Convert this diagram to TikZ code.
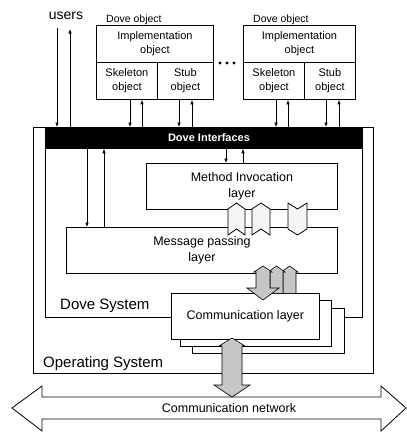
\documentclass[tikz,border=0pt]{standalone}
\usepackage{fontspec}
\setmainfont{Liberation Sans}
\usetikzlibrary{arrows.meta}
\begin{document}
\begin{tikzpicture}[x=1pt,y=-1pt,
  box/.style={draw, line width=0.8pt, anchor=north west, inner sep=0pt, align=center},
  cell/.style={box, font=\fontsize{11}{14}\selectfont},
  layerbox/.style={box, fill=white, font=\fontsize{12.5}{16}\selectfont},
  arr/.style={-{Latex[length=4.5pt,width=3.6pt]}, line width=0.7pt},
  small/.style={inner sep=0pt, font=\fontsize{10.5}{12}\selectfont},
  big/.style={inner sep=0pt, font=\fontsize{15}{17}\selectfont},
  chev/.style={draw, line width=0.8pt, fill=gray!8, line join=miter},
  grayarrow/.style={draw, line width=0.6pt, fill=gray!45, line join=miter}]
\useasboundingbox (0,0) rectangle (407,432);

% operating system and Dove system frames
\node[box, minimum width=340pt, minimum height=246pt] (os) at (33,127) {};
\node[box, minimum width=317pt, minimum height=190pt] (dsys) at (45,127) {};
\node[box, fill=black, minimum width=317pt, minimum height=21pt] (bar) at (45,127) {};
\node[inner sep=0pt, text=white, font=\bfseries\fontsize{11}{13}\selectfont] (barlbl) at (209,137.5) {Dove Interfaces};
\node[big, anchor=base west] (dslbl) at (60,309) {Dove System};
\node[big, anchor=base west] (oslbl) at (43,367) {Operating System};

% users
\node[inner sep=0pt, font=\fontsize{14}{16}\selectfont] (users) at (66,16) {users};
\coordinate (u1) at (57,28);
\coordinate (u2) at (70,29);
\draw[arr] (u1) -- (u1 |- bar.north);
\draw[arr] (u2 |- bar.north) -- (u2);

% left Dove object
\node[small, anchor=base west] (dolA) at (106,22) {Dove object};
\node[cell, minimum width=117pt, minimum height=37pt] (implA) at (96,25) {Implementation\\object};
\node[cell, minimum width=61pt, minimum height=37pt] (skelA) at (96,62) {Skeleton\\object};
\node[cell, minimum width=56pt, minimum height=37pt] (stubA) at (157,62) {Stub\\object};

% right Dove object
\node[small, anchor=base west] (dolB) at (253,22) {Dove object};
\node[cell, minimum width=112pt, minimum height=37pt] (implB) at (243,25) {Implementation\\object};
\node[cell, minimum width=61pt, minimum height=37pt] (skelB) at (243,62) {Skeleton\\object};
\node[cell, minimum width=51pt, minimum height=37pt] (stubB) at (304,62) {Stub\\object};

% ellipsis between the objects
\foreach \x in {220,227,234} \fill (\x,63) circle (1.7);

% object <-> interface arrows
\foreach \d/\u/\n in {130/142/skelA, 179/192/stubA, 276/288/skelB, 326/339/stubB} {
  \coordinate (dn) at (\d,0);
  \coordinate (up) at (\u,0);
  \draw[arr] (dn |- \n.south) -- (dn |- bar.north);
  \draw[arr] (up |- bar.north) -- (up |- \n.south);
}

% layers
\node[layerbox, minimum width=191pt, minimum height=46pt] (mi) at (146,163) {Method Invocation\\layer};
\node[layerbox, minimum width=271pt, minimum height=46pt] (mp) at (66,227) {Message passing\\layer};

% interface <-> layer arrows
\coordinate (m1) at (87,0);
\coordinate (m2) at (104,0);
\coordinate (i1) at (226,0);
\coordinate (i2) at (243,0);
\draw[arr] (m1 |- bar.south) -- (m1 |- mp.north);
\draw[arr] (m2 |- mp.north) -- (m2 |- bar.south);
\draw[arr] (i1 |- bar.south) -- (i1 |- mi.north);
\draw[arr] (i2 |- mi.north) -- (i2 |- bar.south);

% message chevrons between the two layers
\draw[chev] (228,209) -- (236.5,203) -- (245,209) -- (245,235) -- (236.5,229) -- (228,235) -- cycle;
\draw[chev] (252,209) -- (261,203) -- (270,209) -- (270,235) -- (261,229) -- (252,235) -- cycle;
\draw[chev] (288,203) -- (297.5,209) -- (307,203) -- (307,229) -- (297.5,235) -- (288,229) -- cycle;

% stacked communication layers
\node[box, fill=white, minimum width=152pt, minimum height=45pt] (cl3) at (192,308) {};
\node[box, fill=white, minimum width=151pt, minimum height=46pt] (cl2) at (180,300) {};
\node[layerbox, minimum width=148pt, minimum height=46pt] (cl1) at (171,293) {Communication layer};

% gray data paths from message passing to communication
\draw[grayarrow] (283,293) -- (283,272) -- (281,272) -- (289.5,266) -- (298,272) -- (296,272) -- (296,293);
\draw[grayarrow] (270,293) -- (270,272) -- (268,272) -- (276.5,266) -- (285,272) -- (283,272) -- (283,293);
\draw[grayarrow] (256,272) -- (254,272) -- (263,266) -- (272,272) -- (270,272) -- (270,288)
  -- (279,288) -- (263,300) -- (247,288) -- (256,288) -- cycle;

% gray path from communication layer to the network
\draw[grayarrow] (232,338) -- (245,346) -- (242,346) -- (242,385) -- (250,385) -- (232,397)
  -- (214,385) -- (222,385) -- (222,346) -- (219,346) -- cycle;

% communication network
\draw[line width=0.8pt, fill=white, line join=miter] (12,408) -- (42,386) -- (42,397) -- (381,397) -- (381,386)
  -- (406,408) -- (381,431) -- (381,419) -- (42,419) -- (42,431) -- cycle;
\node[inner sep=0pt, font=\fontsize{12.5}{15}\selectfont] (net) at (229,408) {Communication network};
\end{tikzpicture}
\end{document}
